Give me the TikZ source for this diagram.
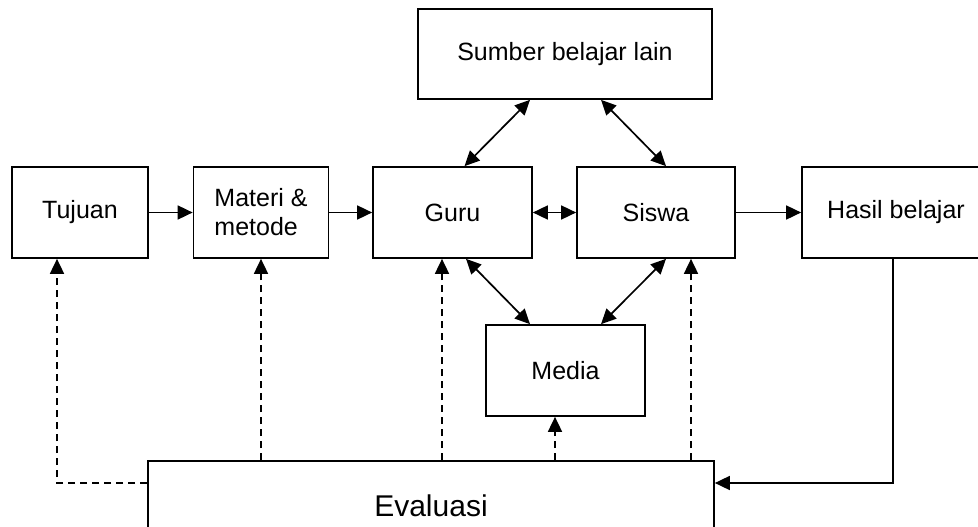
\documentclass[tikz,border=0pt]{standalone}
\usepackage{fontspec}
\setmainfont{Liberation Sans}
\usetikzlibrary{arrows.meta}
\tikzset{
    every node/.style={rectangle, draw, line width=1.7pt, inner sep=0pt,
    	font=\fontsize{25}{29}\selectfont}
}
\tikzset{
    every edge/.append style={line width=1.7pt}
}
\tikzset{
	>={Triangle[length=15pt,width=14pt]},
	evalline/.style={line width=1.7pt, dash pattern=on 7pt off 5pt}
}

\begin{document}
\begin{tikzpicture}[x=1pt, y=-1pt]
  \useasboundingbox (0,0) rectangle (978,527);
  \node (tujuan) [minimum width=136pt, minimum height=91pt] at (80, 212.5) {Tujuan};
  \node (materi) [minimum width=135pt, minimum height=91pt, align=left] at (261, 212.5) {Materi \&\\metode};
  \node (guru) [minimum width=159pt, minimum height=91pt] at (452.5, 212.5) {Guru};
  \node (siswa) [minimum width=158pt, minimum height=91pt] at (656, 212.5) {Siswa};
  \node (hasil) [minimum width=188pt, minimum height=91pt] at (896, 212.5) {Hasil belajar};
  \node (sumber) [minimum width=294pt, minimum height=90pt] at (565, 54) {Sumber belajar lain};
  \node (media) [minimum width=159pt, minimum height=91pt] at (565.5, 370.5) {Media};
  \node (evaluasi) [minimum width=566pt, minimum height=89pt,
  	font=\fontsize{30}{34}\selectfont] at (431, 505.5) {Evaluasi};

  \draw (tujuan) edge [->] (materi); \draw (materi) edge [->] (guru);
  \draw (guru) edge [<->] (siswa); \draw (siswa) edge [->] (hasil);
  \draw ([xshift=12pt]guru.north) edge [<->] ([xshift=-35pt]sumber.south);
  \draw ([xshift=10pt]siswa.north) edge [<->] ([xshift=36pt]sumber.south);
  \draw ([xshift=13.5pt]guru.south) edge [<->] ([xshift=-35.5pt]media.north);
  \draw ([xshift=10pt]siswa.south) edge [<->] ([xshift=35.5pt]media.north);

  % evaluasi feedback
  \draw [evalline, ->] ([yshift=22.5pt]evaluasi.west) -| ([xshift=-23pt]tujuan.south);
  \draw [evalline, ->] (materi.south |- evaluasi.north) -- (materi.south);
  \draw [evalline, ->] ([xshift=-10.5pt]guru.south |- evaluasi.north) -- ([xshift=-10.5pt]guru.south);
  \draw [evalline, ->] ([xshift=-10.5pt]media.south |- evaluasi.north) -- ([xshift=-10.5pt]media.south);
  \draw [evalline, ->] ([xshift=35pt]siswa.south |- evaluasi.north) -- ([xshift=35pt]siswa.south);
  \draw [line width=1.7pt, ->] ([xshift=-3pt]hasil.south) |- ([yshift=22.5pt]evaluasi.east);
\end{tikzpicture}
\end{document}
